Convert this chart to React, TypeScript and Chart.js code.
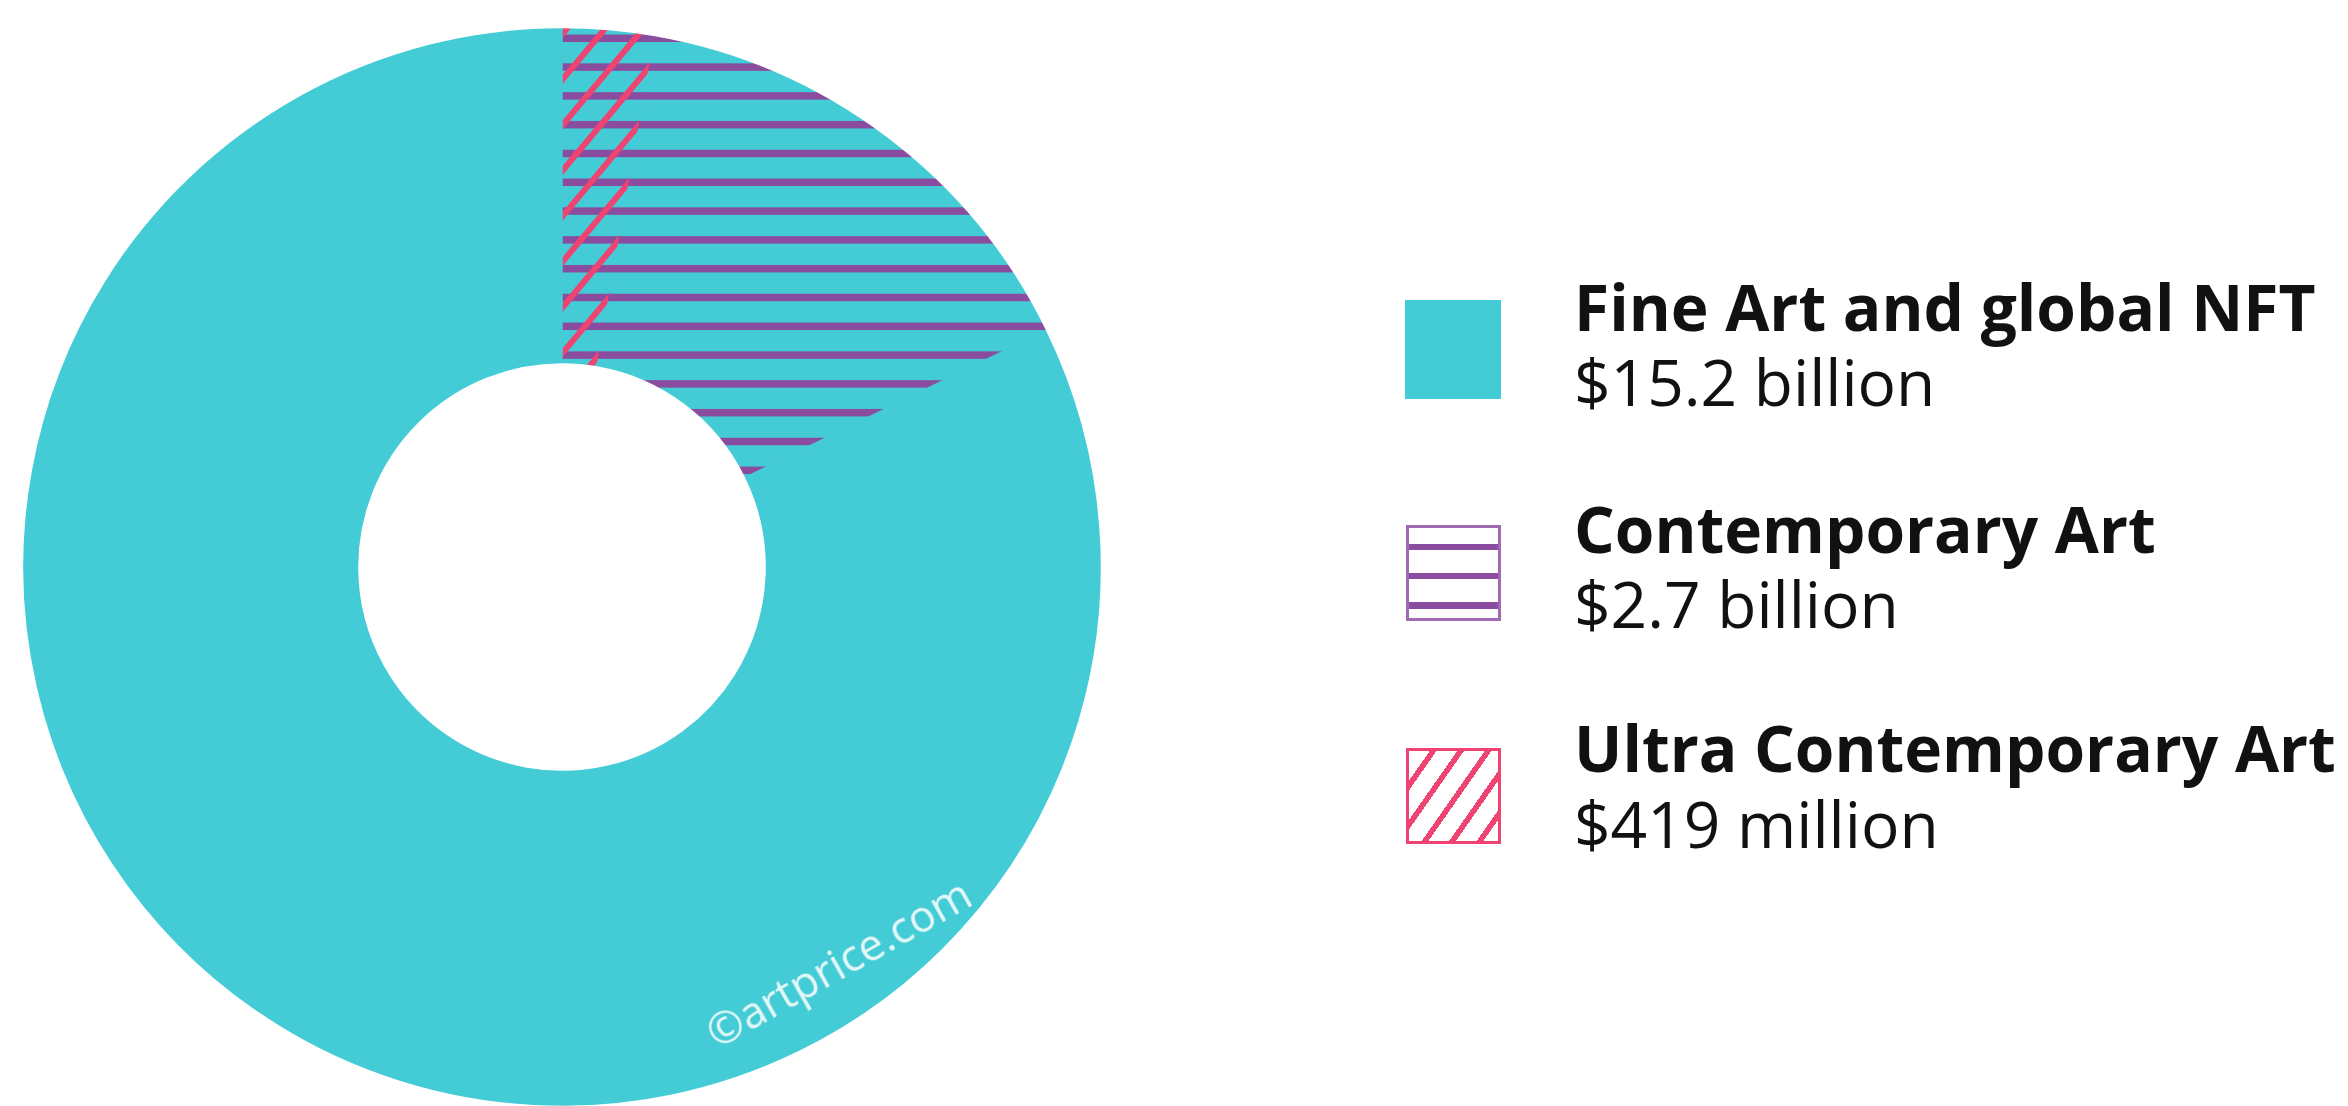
import React, { useEffect, useRef } from 'react';
import { Chart, registerables } from 'chart.js';

Chart.register(...registerables);

// ---- data ----
const categories = ['Fine Art and global NFT', 'Contemporary Art', 'Ultra Contemporary Art'];
const amountsBillion = [15.2, 2.7, 0.419];
const amountLabels = ['$15.2 billion', '$2.7 billion', '$419 million'];
const watermarkText = '©artprice.com';

// ---- styles ----
const TEAL = '#44CCD6';
const PURPLE = '#8A4C9E';
const PURPLE_BORDER = '#9F6AB2';
const PINK = '#EF4471';
const FONT = '"Open Sans", "Noto Sans", sans-serif';

const CX = 562;
const CY = 567;
const R = 538;
const HOLE = 205;
const SIZE = 2 * R + 4;
const LEFT = CX - SIZE / 2;
const TOP = CY - SIZE / 2;

function buildFillCanvas(withHatch: boolean): HTMLCanvasElement {
  const c = document.createElement('canvas');
  c.width = SIZE;
  c.height = SIZE;
  const g = c.getContext('2d')!;
  g.fillStyle = TEAL;
  g.fillRect(0, 0, SIZE, SIZE);
  // horizontal purple stripes
  const period = 28.8;
  const thick = 7.5;
  g.fillStyle = PURPLE;
  for (let y = 38.3 - TOP - period * 2; y < SIZE + period; y += period) {
    g.fillRect(0, y - thick / 2, SIZE, thick);
  }
  if (withHatch) {
    const hp = 45.6;
    const slope = Math.tan((50 * Math.PI) / 180);
    const x0 = CX - LEFT;
    g.strokeStyle = PINK;
    g.lineWidth = 6;
    for (let y = 80 - TOP - hp * 20; y < SIZE + hp * 20; y += hp) {
      g.beginPath();
      g.moveTo(x0 - 60, y + slope * 60);
      g.lineTo(x0 + 400, y - slope * 400);
      g.stroke();
    }
  }
  return c;
}

const boxStyles: React.CSSProperties[] = [
  { background: TEAL, height: 99, top: 300, width: 96, left: 1405 },
  {
    top: 525,
    height: 96,
    width: 95,
    left: 1406,
    border: `3px solid ${PURPLE_BORDER}`,
    background: `repeating-linear-gradient(to bottom, #fff 0px, #fff 15.5px, ${PURPLE} 15.5px, ${PURPLE} 22.5px, #fff 22.5px, #fff 29px)`,
  },
  {
    top: 748,
    height: 96,
    width: 95,
    left: 1406,
    border: `3px solid ${PINK}`,
    background: `repeating-linear-gradient(125deg, #fff 0px, #fff 17px, ${PINK} 17px, ${PINK} 22.5px)`,
  },
];

const titleBaselines = [332, 554, 773];
const valueBaselines = [407, 629, 849];
const TITLE_SIZE = 64;
const VALUE_SIZE = 64;
const TEXT_LEFT = 1574;

export default function App() {
  const canvasRef = useRef<HTMLCanvasElement | null>(null);

  useEffect(() => {
    const canvas = canvasRef.current;
    if (!canvas) return;
    const ctx = canvas.getContext('2d')!;
    const purpleFill = ctx.createPattern(buildFillCanvas(false), 'no-repeat');
    const pinkFill = ctx.createPattern(buildFillCanvas(true), 'no-repeat');

    const [total, contemporary, ultra] = amountsBillion;
    const sliceValues = [ultra, contemporary - ultra, total - contemporary];
    const sliceLabels = [categories[2], categories[1], categories[0]];
    const fills: any[] = [pinkFill, purpleFill, TEAL];

    const chart = new Chart(canvas, {
      type: 'doughnut',
      data: {
        labels: sliceLabels,
        datasets: [
          {
            data: sliceValues,
            backgroundColor: fills,
            borderColor: fills,
            borderWidth: 1.5,
            borderAlign: 'center',
            hoverOffset: 0,
          },
        ],
      },
      options: {
        responsive: false,
        animation: false,
        events: [],
        radius: R,
        cutout: HOLE,
        rotation: 0,
        circumference: 360,
        layout: { padding: 0 },
        plugins: {
          legend: { display: false },
          tooltip: { enabled: false },
        },
      },
    });
    return () => chart.destroy();
  }, []);

  return (
    <div
      style={{
        position: 'absolute',
        left: 0,
        top: 0,
        width: 2348,
        height: 1106,
        overflow: 'hidden',
        background: '#fff',
        fontFamily: FONT,
      }}
    >
      <canvas
        ref={canvasRef}
        width={SIZE}
        height={SIZE}
        style={{ position: 'absolute', left: LEFT, top: TOP, width: SIZE, height: SIZE, display: 'block' }}
      />
      <div
        style={{
          position: 'absolute',
          left: 838,
          top: 962,
          transform: 'translate(-50%, -50%) rotate(-29.5deg)',
          fontSize: 44,
          lineHeight: 1,
          color: 'rgba(255,255,255,0.85)',
          whiteSpace: 'nowrap',
        }}
      >
        {watermarkText}
      </div>
      {categories.map((cat, i) => (
        <React.Fragment key={cat}>
          <div style={{ position: 'absolute', boxSizing: 'border-box', ...boxStyles[i] }} />
          <div
            style={{
              position: 'absolute',
              left: TEXT_LEFT,
              top: titleBaselines[i] - TITLE_SIZE * 0.888,
              fontSize: TITLE_SIZE,
              lineHeight: 1,
              fontWeight: 700,
              color: '#111',
              whiteSpace: 'nowrap',
            }}
          >
            {cat}
          </div>
          <div
            style={{
              position: 'absolute',
              left: TEXT_LEFT,
              top: valueBaselines[i] - VALUE_SIZE * 0.888,
              fontSize: VALUE_SIZE,
              lineHeight: 1,
              fontWeight: 400,
              color: '#111',
              whiteSpace: 'nowrap',
            }}
          >
            {amountLabels[i]}
          </div>
        </React.Fragment>
      ))}
    </div>
  );
}
